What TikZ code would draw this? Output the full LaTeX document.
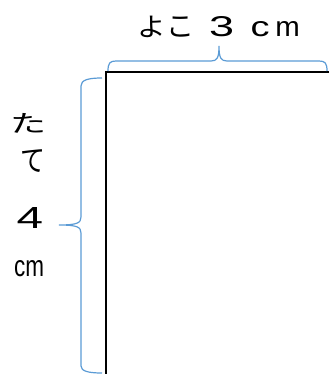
\documentclass[tikz,border=0pt]{standalone}
\usepackage{fontspec}
\usepackage{graphicx}
\setmainfont{Noto Sans CJK JP}
\newfontfamily\latinfont{Liberation Sans}
\definecolor{braceblue}{RGB}{91,155,213}
\newcommand{\kana}[3]{\scalebox{#1}[1]{\fontsize{#2}{#2}\selectfont #3}}
\newcommand{\lat}[3]{\resizebox{#1pt}{#2pt}{\latinfont #3}}
\tikzset{
  blackline/.style={line width=2.8pt, black},
  bracepath/.style={line width=1.2pt, draw=braceblue},
  lbl/.style={inner sep=0pt}
}
\begin{document}
\begin{tikzpicture}[x={(1pt,0)}, y={(0,-1pt)}]
\useasboundingbox (0,0) rectangle (329,374);
% shape lines
\coordinate (corner) at (106,72);
\coordinate (right) at (329,72);
\coordinate (bottom) at (106,375);
\draw[blackline] (right) -- (corner) -- (bottom);
% top brace
\draw[bracepath] (108,71) .. controls (108,63) and (110,61) .. (116,61) -- (211,61)
  .. controls (217,61) and (219,58) .. (219,46)
  .. controls (219,58) and (221,61) .. (227,61) -- (319,61)
  .. controls (325,61) and (327,63) .. (327,71);
% left brace
\draw[bracepath] (102,78) .. controls (88,78) and (81,80) .. (81,86) -- (81,217)
  .. controls (81,223) and (77,225) .. (59,225)
  .. controls (77,225) and (81,227) .. (81,233) -- (81,366)
  .. controls (81,371) and (88,373) .. (102,373);
% labels
\node[lbl, anchor=base west] (yoko) at (152,37)
  {\makebox[0pt]{\kana{1.1}{26}{よ}}\hspace{28.5pt}%
   \makebox[0pt]{\kana{1.0}{28}{こ}}\hspace{41pt}%
   \makebox[0pt]{\lat{25}{20}{3}}\hspace{38.5pt}%
   \makebox[0pt]{\lat{19}{15}{c}}\hspace{27.5pt}%
   \makebox[0pt]{\lat{24.5}{15}{m}}};
\node[lbl] (ta) at (28,123) {\kana{1.5}{24}{た}};
\node[lbl] (te) at (33,161) {\kana{0.83}{30}{て}};
\node[lbl] (four) at (30,217.5) {\lat{26.5}{21}{4}};
\node[lbl] (cm) at (29,269) {\lat{30}{16}{cm}};
\end{tikzpicture}
\end{document}
